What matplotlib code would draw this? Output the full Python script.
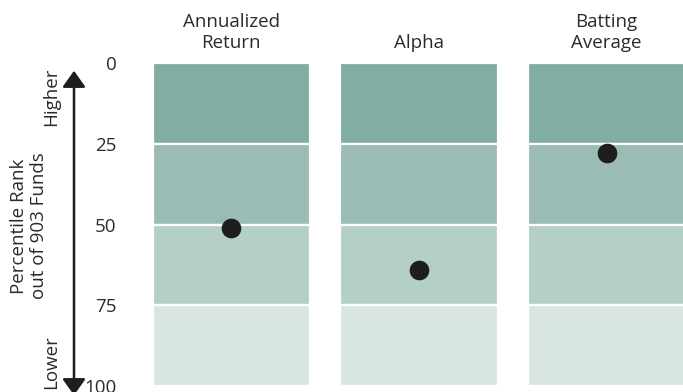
"""Percentile rank chart: fund rank vs peers on three metrics, shown on quartile bands."""

import matplotlib.pyplot as plt
from matplotlib.patches import FancyArrowPatch

W, H = 683, 392

metrics = ["Annualized\nReturn", "Alpha", "Batting\nAverage"]
percentile_ranks = [51, 64, 28]
quartile_edges = [0, 25, 50, 75, 100]
band_colors = ["#82ada2", "#9bbcb4", "#b4cfc8", "#d9e5e2"]
ytick_labels = ["0", "25", "50", "75", "100"]

TEXT = "#2b2b2b"
FS = 13.5
plt.rcParams["font.family"] = ["Open Sans", "DejaVu Sans"]


def px_rect(x0, y0, x1, y1):
    # pixel box (top-left origin) -> figure fraction rect
    return [x0 / W, 1 - y1 / H, (x1 - x0) / W, (y1 - y0) / H]


fig = plt.figure(figsize=(W / 100, H / 100), dpi=100)

panel_x = [(152.5, 310), (340, 497.5), (528, 685)]
top, bottom = 63, 386

for i, (name, rank) in enumerate(zip(metrics, percentile_ranks)):
    ax = fig.add_axes(px_rect(panel_x[i][0], top, panel_x[i][1], bottom))
    for lo, hi, c in zip(quartile_edges[:-1], quartile_edges[1:], band_colors):
        ax.bar(0.5, hi - lo, bottom=lo, width=1, color=c, edgecolor="white", linewidth=1.6)
    ax.scatter([0.5], [rank], s=200, color="#1e1e1e", zorder=3, linewidth=0)
    ax.set_xlim(0, 1)
    ax.set_ylim(100, 0)
    ax.set_xticks([])
    for s in ax.spines.values():
        s.set_visible(False)
    ax.set_title(name, fontsize=FS, color=TEXT, pad=10.5, linespacing=1.25)
    if i == 0:
        ax.set_yticks(quartile_edges)
        ax.set_yticklabels(ytick_labels, fontsize=FS, color=TEXT)
        ax.tick_params(axis="y", length=0, pad=26)
    else:
        ax.set_yticks([])

# up/down arrow on the left
arrow = FancyArrowPatch((74 / W, 1 - 68 / H), (74 / W, 1 - 398 / H),
                        transform=fig.transFigure, arrowstyle="<|-|>,head_length=4.5,head_width=3.2",
                        color="#1e1e1e", linewidth=1.8, mutation_scale=2.2)
fig.add_artist(arrow)

fig.text(51 / W, 1 - 97 / H, "Higher", rotation=90, ha="center", va="center",
         fontsize=FS, color=TEXT)
fig.text(51 / W, 1 - 362 / H, "Lower", rotation=90, ha="center", va="center",
         fontsize=FS, color=TEXT)
fig.text(29 / W, 1 - 226 / H, "Percentile Rank\nout of 903 Funds", rotation=90,
         ha="center", va="center", fontsize=FS, color=TEXT, linespacing=1.1)

fig.savefig("out.png", dpi=100)
